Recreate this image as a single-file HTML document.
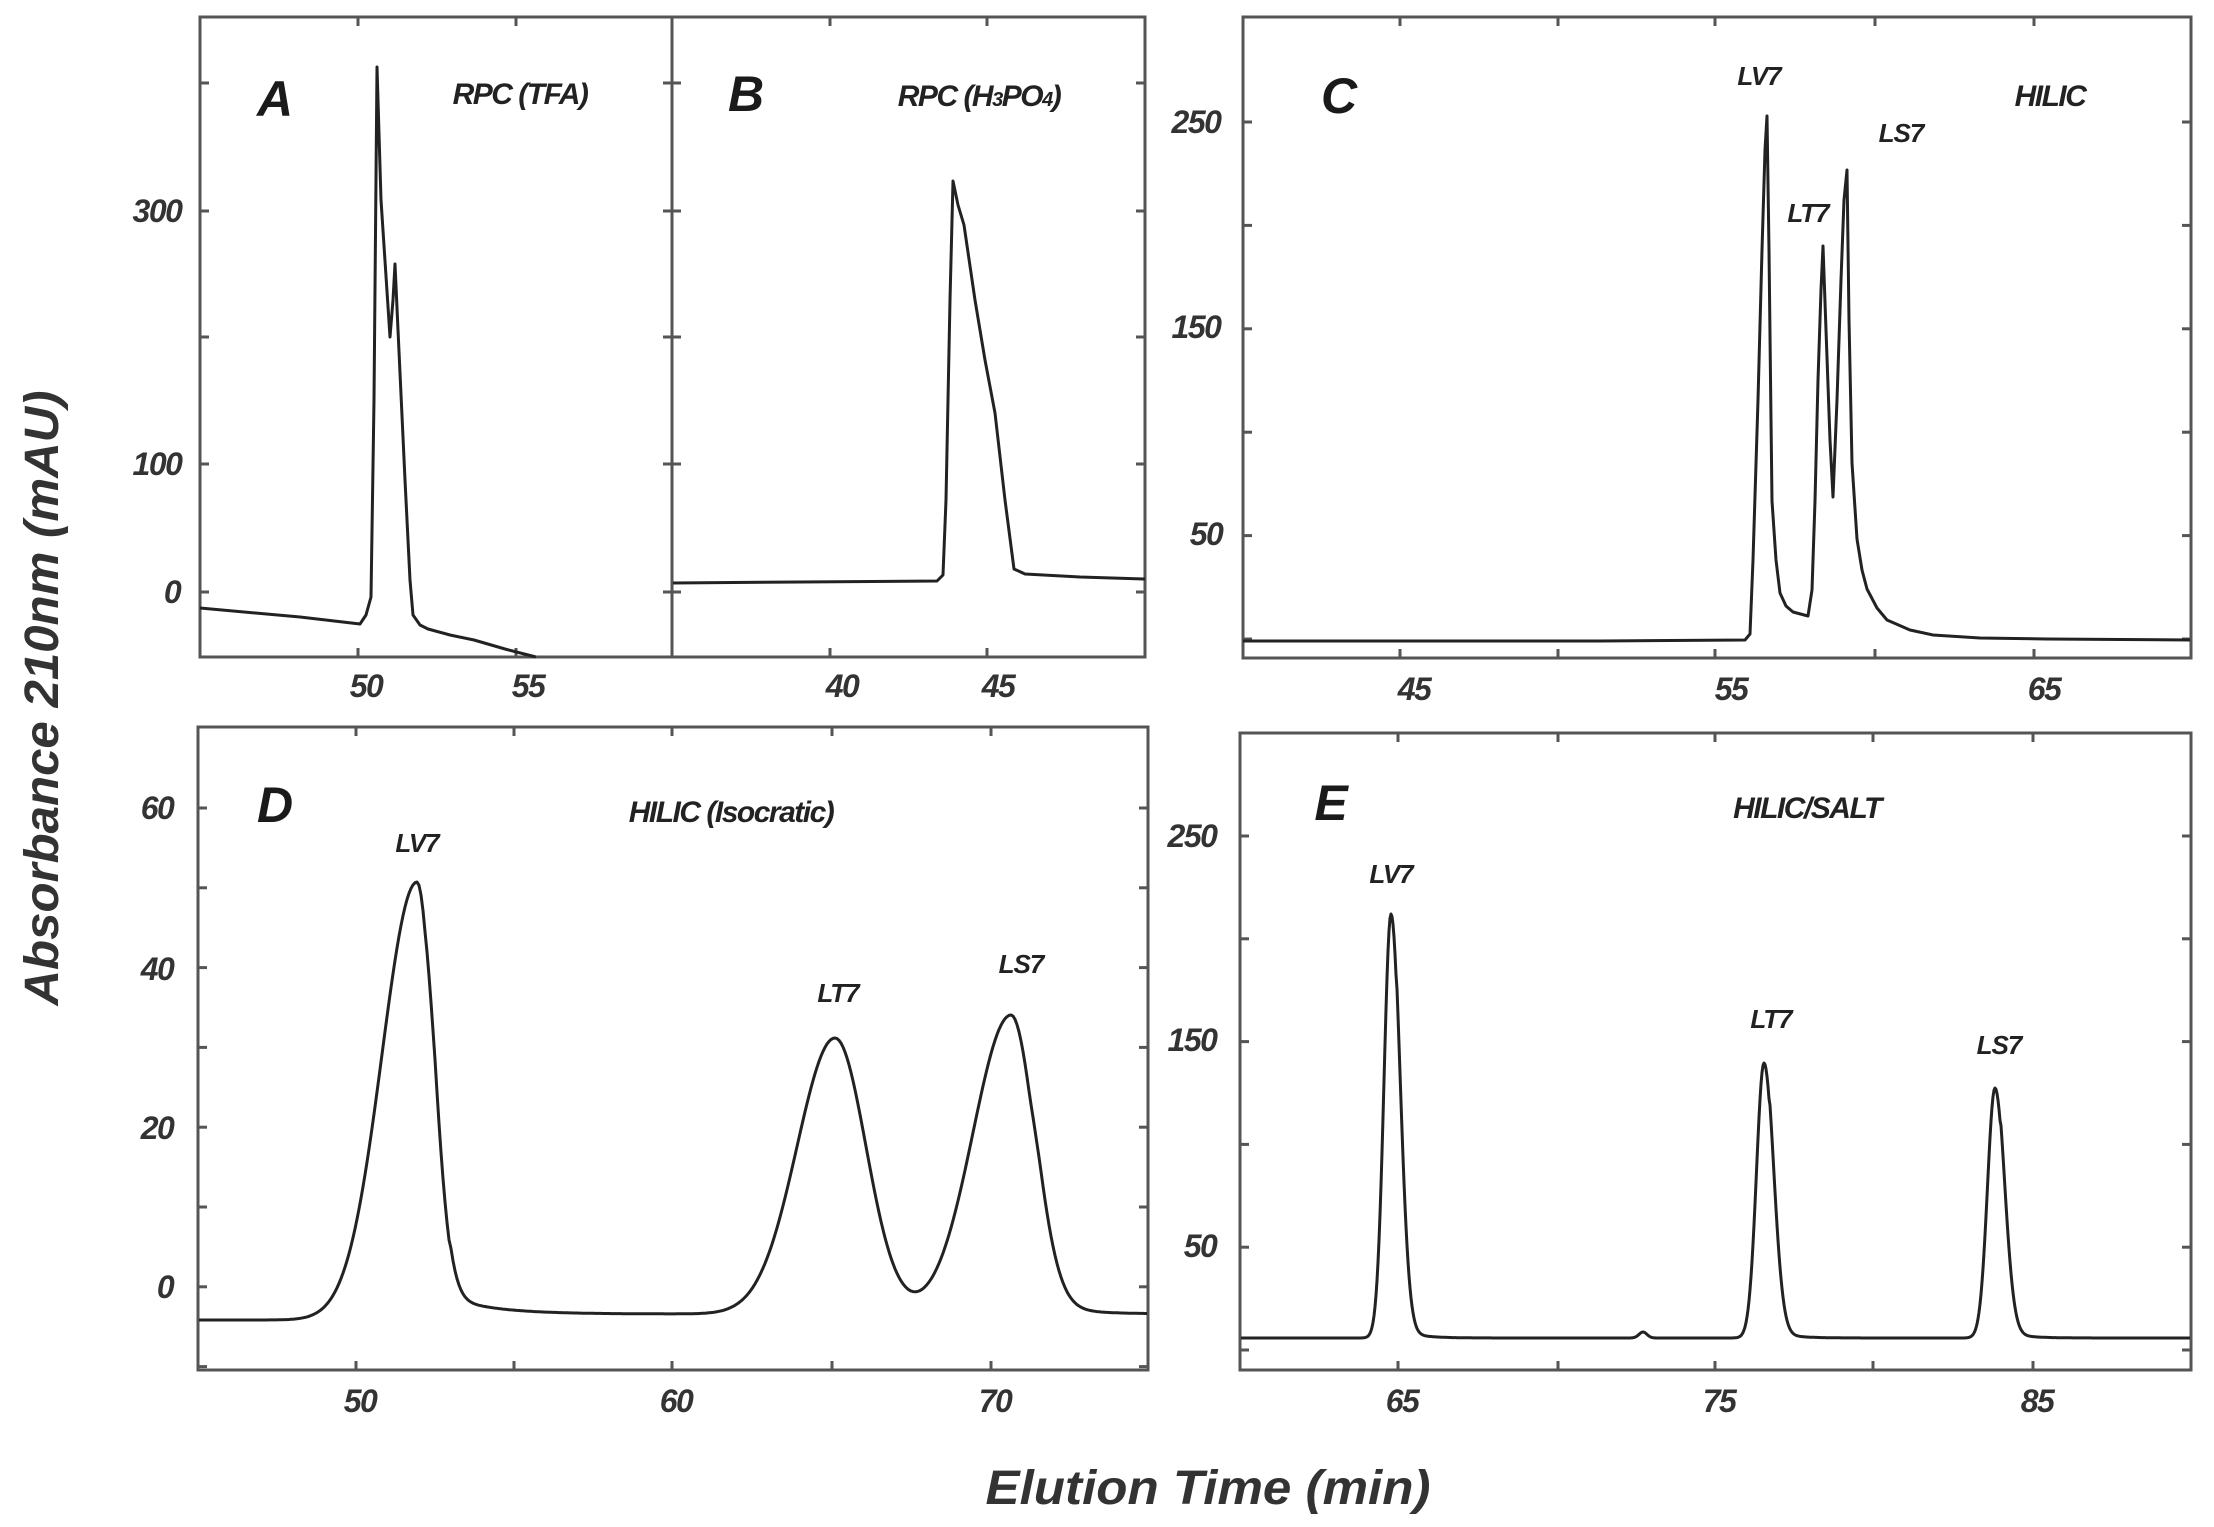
<!DOCTYPE html>
<html><head><meta charset="utf-8"><style>
html,body{margin:0;padding:0;background:#fff}
svg{display:block}
text{font-family:"Liberation Sans",sans-serif;font-style:italic;fill:#1a1a1a}
.tk{font-size:32px;font-weight:bold;letter-spacing:-1.5px;fill:#333}
.pl{font-size:26px;font-weight:bold;letter-spacing:-1px;fill:#222}
.ti{font-size:30px;font-weight:bold;letter-spacing:-1.5px;fill:#222}
.lt{font-size:50px;font-weight:bold}
.ax{font-size:48px;font-weight:bold;fill:#333}
</style></head><body>
<svg id="s" width="2214" height="1527" viewBox="0 0 2214 1527" xmlns="http://www.w3.org/2000/svg">
<g fill="none" stroke="#555" stroke-width="3">
<rect x="200" y="17" width="945" height="640"/>
<line x1="672" y1="17" x2="672" y2="657"/>
<rect x="1243" y="17" width="948" height="641"/>
<rect x="198" y="727" width="950" height="643"/>
<rect x="1240" y="733" width="951" height="637"/>
</g>
<g id="ticks" stroke="#555" stroke-width="3"></g>
<g fill="none" stroke="#222" stroke-width="3" stroke-linejoin="round">
<polyline points="200,608 300,617 360,624 366,615 371,597 374,400 377,67 381,200 390,337 393,300 395,264 398,330 405,480 410,580 413,615 420,625 428,629 450,635 474,640 505,649 536,657"/>
<polyline points="673,583 800,582 937,581 943,575 946,500 950,300 953,181 958,205 964,225 975,300 985,360 995,413 1005,500 1014,569 1025,574 1080,577 1145,579"/>
<polyline points="1243,641 1600,641 1745,640 1750,634 1753,560 1758,400 1762,250 1765,150 1767,116 1769,250 1771,420 1772,501 1776,560 1780,593 1786,606 1793,612 1808,616 1812,590 1815,501 1818,380 1821,290 1823,246 1826,330 1830,440 1833,497 1837,400 1841,280 1844,200 1847,170 1849,320 1852,463 1857,539 1862,570 1867,589 1877,608 1887,620 1910,630 1933,635 1980,638 2047,639 2190,640"/>
<path id="pd" d=""/>
<path id="pe" d=""/>
</g>
<text class="tk" x="157" y="222" text-anchor="middle">300</text>
<text class="tk" x="157" y="475" text-anchor="middle">100</text>
<text class="tk" x="172" y="603" text-anchor="middle">0</text>
<text class="tk" x="366" y="697" text-anchor="middle">50</text>
<text class="tk" x="528" y="697" text-anchor="middle">55</text>
<text class="tk" x="842" y="697" text-anchor="middle">40</text>
<text class="tk" x="998" y="697" text-anchor="middle">45</text>
<text class="tk" x="1196" y="133" text-anchor="middle">250</text>
<text class="tk" x="1196" y="338" text-anchor="middle">150</text>
<text class="tk" x="1206" y="545" text-anchor="middle">50</text>
<text class="tk" x="1414" y="700" text-anchor="middle">45</text>
<text class="tk" x="1731" y="700" text-anchor="middle">55</text>
<text class="tk" x="2044" y="700" text-anchor="middle">65</text>
<text class="tk" x="157" y="819" text-anchor="middle">60</text>
<text class="tk" x="157" y="980" text-anchor="middle">40</text>
<text class="tk" x="157" y="1139" text-anchor="middle">20</text>
<text class="tk" x="165" y="1298" text-anchor="middle">0</text>
<text class="tk" x="360" y="1412" text-anchor="middle">50</text>
<text class="tk" x="676" y="1412" text-anchor="middle">60</text>
<text class="tk" x="995" y="1412" text-anchor="middle">70</text>
<text class="tk" x="1192" y="847" text-anchor="middle">250</text>
<text class="tk" x="1192" y="1051" text-anchor="middle">150</text>
<text class="tk" x="1200" y="1257" text-anchor="middle">50</text>
<text class="tk" x="1402" y="1412" text-anchor="middle">65</text>
<text class="tk" x="1719" y="1412" text-anchor="middle">75</text>
<text class="tk" x="2037" y="1412" text-anchor="middle">85</text>
<text class="lt" x="275" y="116" text-anchor="middle">A</text>
<text class="ti" x="520" y="104" text-anchor="middle">RPC (TFA)</text>
<text class="lt" x="746" y="111" text-anchor="middle">B</text>
<text class="ti" x="979" y="106" text-anchor="middle">RPC (H<tspan font-size="20">3</tspan>PO<tspan font-size="20">4</tspan>)</text>
<text class="lt" x="1339" y="113" text-anchor="middle">C</text>
<text class="ti" x="2050" y="106" text-anchor="middle">HILIC</text>
<text class="pl" x="1759" y="85" text-anchor="middle">LV7</text>
<text class="pl" x="1808" y="222" text-anchor="middle">LT7</text>
<text class="pl" x="1901" y="142" text-anchor="middle">LS7</text>
<text class="lt" x="275" y="822" text-anchor="middle">D</text>
<text class="ti" x="731" y="822" text-anchor="middle">HILIC (Isocratic)</text>
<text class="pl" x="417" y="852" text-anchor="middle">LV7</text>
<text class="pl" x="838" y="1002" text-anchor="middle">LT7</text>
<text class="pl" x="1021" y="973" text-anchor="middle">LS7</text>
<text class="lt" x="1331" y="820" text-anchor="middle">E</text>
<text class="ti" x="1807" y="818" text-anchor="middle">HILIC/SALT</text>
<text class="pl" x="1391" y="883" text-anchor="middle">LV7</text>
<text class="pl" x="1771" y="1028" text-anchor="middle">LT7</text>
<text class="pl" x="1999" y="1054" text-anchor="middle">LS7</text>
<text class="ax" x="1208" y="1504" text-anchor="middle" textLength="445" lengthAdjust="spacingAndGlyphs">Elution Time (min)</text>
<text class="ax" transform="translate(58,698) rotate(-90)" text-anchor="middle" textLength="615" lengthAdjust="spacingAndGlyphs">Absorbance 210nm (mAU)</text>
</svg>
<script>
(function(){
var T=document.getElementById('ticks'),ns='http://www.w3.org/2000/svg';
function L(a,b,c,d){var l=document.createElementNS(ns,'line');l.setAttribute('x1',a);l.setAttribute('y1',b);l.setAttribute('x2',c);l.setAttribute('y2',d);T.appendChild(l);}
var k=9;
[83,211,337,464,592].forEach(function(y){L(200,y,200+k,y);L(672-k,y,672,y);L(672,y,672+k,y);L(1145-k,y,1145,y);});
[358,516].forEach(function(x){L(x,17,x,17+k);L(x,657,x,657-k);});
[830,987].forEach(function(x){L(x,17,x,17+k);L(x,657,x,657-k);});
for(var y=122;y<=650;y+=103.4){L(1243,y,1243+k,y);L(2191-k,y,2191,y);}
[1400,1558,1715,1875,2034].forEach(function(x){L(x,17,x,17+k);L(x,658,x,658-k);});
for(var i=0;i<8;i++){var y=808+i*79.8;if(y<1368){L(198,y,198+k,y);L(1148-k,y,1148,y);}}
[356,514,672,832,991].forEach(function(x){L(x,727,x,727+k);L(x,1370,x,1370-k);});
for(var y=836;y<=1352;y+=102.8){L(1240,y,1240+k,y);L(2191-k,y,2191,y);}
[1398,1558,1715,1873,2033].forEach(function(x){L(x,733,x,733+k);L(x,1370,x,1370-k);});
function g(x,c,h,sl,sr){var s=x<c?sl:sr;var d=x-c;return h*Math.exp(-d*d/(2*s*s));}
var p='';for(var x=199;x<=1147;x+=2){
 var base=x<450?1320:1314;
 var v=g(x,417,438,35,16.3)+g(x,835,276,38,31)+g(x,1011,299,38,23.5);
 if(x>425)v+=28*Math.exp(-(x-425)/45)*Math.min(1,(x-425)/10);
 if(x>1030)v+=14*Math.exp(-(x-1030)/35)*Math.min(1,(x-1030)/10);
 p+=(p?'L':'M')+x+','+(base-v).toFixed(1);}
document.getElementById('pd').setAttribute('d',p);
var q='';for(var x=1241;x<=2190;x+=1){
 var v=g(x,1391,424,7,9)+g(x,1764,275,7.5,9.5)+g(x,1995,250,7.5,9.5)+g(x,1643,6,4,4);
 [1391,1764,1995].forEach(function(c,i){if(x>c+5)v+=[10,8,8][i]*Math.exp(-(x-c-5)/18);});
 q+=(q?'L':'M')+x+','+(1338-v).toFixed(1);}
document.getElementById('pe').setAttribute('d',q);
})();
</script>
</body></html>
